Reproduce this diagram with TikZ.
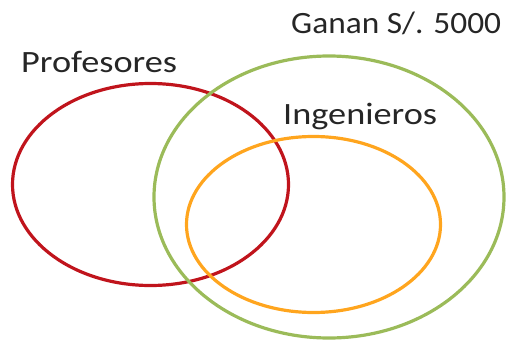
\documentclass[tikz,border=0pt]{standalone}
\usepackage{fontspec}
\setmainfont{Carlito}
\definecolor{vred}{HTML}{C0141C}
\definecolor{vgreen}{HTML}{9BBB59}
\definecolor{vorange}{HTML}{FFA51E}
\definecolor{vtext}{HTML}{262626}
\begin{document}
\begin{tikzpicture}[x=1pt,y=-1pt,
  setline/.style={line width=3.2pt},
  lbl/.style={inner sep=0pt,anchor=base west,font=\fontsize{31}{31}\selectfont,text=vtext,xscale=1.17,transform shape}]
\useasboundingbox (0,0) rectangle (506,340);
\draw[setline,vred] (150.5,184.5) ellipse [x radius=138, y radius=101];
\draw[setline,vgreen] (329,197) ellipse [x radius=175, y radius=141];
\draw[setline,vorange] (313.5,224.5) ellipse [x radius=127, y radius=88];
\node[lbl] (prof) at (21,72) {Profesores};
\node[lbl,xscale=0.92] (gan) at (291,34) {Ganan S/. 5000};
\node[lbl] (ing) at (283,124) {Ingenieros};
\end{tikzpicture}
\end{document}
